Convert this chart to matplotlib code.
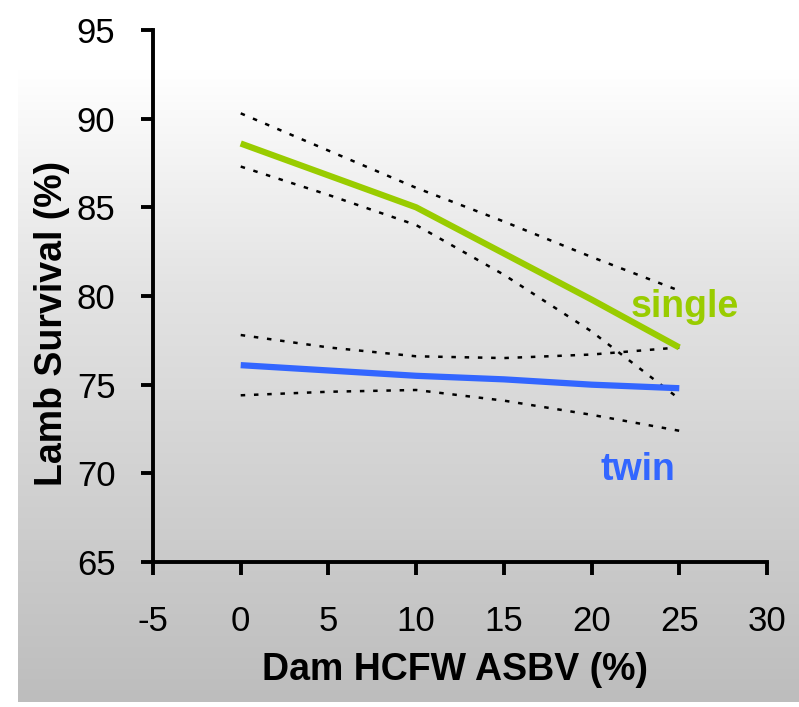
import numpy as np
import matplotlib.pyplot as plt
from matplotlib.colors import LinearSegmentedColormap

plt.rcParams['font.family'] = ['Liberation Sans', 'DejaVu Sans']

# data
hcfw = [0, 5, 10, 15, 20, 25]
single = [88.6, 86.8, 85.0, 82.4, 79.8, 77.1]
single_hi = [90.3, 88.2, 86.1, 84.2, 82.2, 80.3]
single_lo = [87.3, 85.7, 84.0, 81.2, 78.0, 74.2]
twin = [76.1, 75.8, 75.5, 75.3, 75.0, 74.8]
twin_hi = [77.8, 77.1, 76.6, 76.5, 76.7, 77.1]
twin_lo = [74.4, 74.6, 74.7, 74.1, 73.3, 72.4]

xticks = [-5, 0, 5, 10, 15, 20, 25, 30]
yticks = [65, 70, 75, 80, 85, 90, 95]

W, H = 799, 707
fig = plt.figure(figsize=(W / 100, H / 100), dpi=100)

# gradient background
bg = fig.add_axes([18 / W, 5 / H, 1 - 18 / W, 1 - 5 / H], zorder=0)
grad = np.linspace(0, 1, 256)[:, None]
cmap = LinearSegmentedColormap.from_list('bg', [(0, '#bdbdbd'), (0.6, '#e4e4e4'), (0.9, '#ffffff'), (1, '#ffffff')])
bg.imshow(grad, aspect='auto', cmap=cmap, origin='lower', extent=[0, 1, 0, 1])
bg.axis('off')

ax = fig.add_axes([153 / W, 1 - 562 / H, (767 - 153) / W, (562 - 30) / H], zorder=1)
ax.patch.set_alpha(0)

dot = (0, (1.8, 3.5))
ax.plot(hcfw, single_hi, color='black', lw=1.8, ls=dot)
ax.plot(hcfw, single_lo, color='black', lw=1.8, ls=dot)
ax.plot(hcfw, twin_hi, color='black', lw=1.8, ls=dot)
ax.plot(hcfw, twin_lo, color='black', lw=1.8, ls=dot)
ax.plot(hcfw, single, color='#99cc00', lw=4.5, solid_capstyle='butt')
ax.plot(hcfw, twin, color='#3366ff', lw=4.5, solid_capstyle='butt')

ax.text(22.2, 79.4, 'single', color='#99cc00', fontsize=27, fontweight='bold', va='center')
ax.text(20.5, 70.2, 'twin', color='#3366ff', fontsize=27, fontweight='bold', va='center')

ax.set_xlim(-5, 30)
ax.set_ylim(65, 95)
ax.set_xticks(xticks)
ax.set_yticks(yticks)
ax.set_xticklabels([str(v) for v in xticks])
ax.tick_params(axis='both', labelsize=25, length=9, width=2.8, direction='out')
ax.tick_params(axis='x', pad=22)
ax.tick_params(axis='y', pad=18)

for s in ['top', 'right']:
    ax.spines[s].set_visible(False)
for s in ['left', 'bottom']:
    ax.spines[s].set_linewidth(2.8)

ax.set_xlabel('Dam HCFW ASBV (%)', fontsize=27, fontweight='bold')
ax.set_ylabel('Lamb Survival (%)', fontsize=27, fontweight='bold')
ax.xaxis.set_label_coords(0.492, -0.17)
ax.yaxis.set_label_coords(-0.135, 0.449)

fig.savefig('out.png', dpi=100)
